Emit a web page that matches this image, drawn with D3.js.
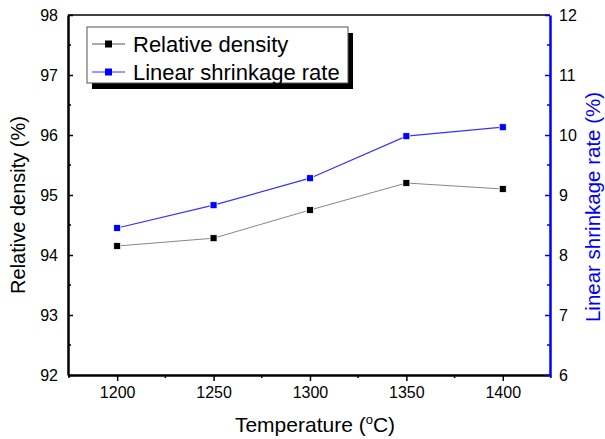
<!DOCTYPE html>
<html>
<head>
<meta charset="utf-8">
<script src="https://cdn.jsdelivr.net/npm/d3@7"></script>
<style>
  body { margin: 0; background: #fff; }
  svg { font-family: "Liberation Sans", Arial, sans-serif; }
</style>
</head>
<body>
<svg id="chart"></svg>
<script>
// data
const temperatures = [1200, 1250, 1300, 1350, 1400];
const relativeDensity = [94.15, 94.28, 94.75, 95.2, 95.1];
const shrinkageRate = [8.45, 8.83, 9.28, 9.98, 10.13];
const xTicks = [1200, 1250, 1300, 1350, 1400];
const leftTicks = [92, 93, 94, 95, 96, 97, 98];
const rightTicks = [6, 7, 8, 9, 10, 11, 12];

const W = 605, H = 439;
const margin = { top: 15, right: 55, bottom: 64, left: 68 };
const width = W - margin.left - margin.right;
const height = H - margin.top - margin.bottom;

const svg = d3.select("#chart").attr("width", W).attr("height", H);
const g = svg.append("g").attr("transform", `translate(${margin.left},${margin.top})`);

const x = d3.scaleLinear().domain([1174.5, 1424.5]).range([0, width]);
const yL = d3.scaleLinear().domain([92, 98]).range([height, 0]);
const yR = d3.scaleLinear().domain([6, 12]).range([height, 0]);

// top border
g.append("line").attr("x1", 0).attr("x2", width).attr("y1", 0).attr("y2", 0)
  .attr("stroke", "#000").attr("stroke-width", 1.5);

// minor ticks
const xMinor = d3.range(1175, 1426, 50);
g.selectAll(".xminor").data(xMinor).join("line")
  .attr("x1", d => x(d)).attr("x2", d => x(d)).attr("y1", height).attr("y2", height + 3)
  .attr("stroke", "#000").attr("stroke-width", 1.5);
const yMinor = d3.range(92.5, 98, 1);
g.selectAll(".lminor").data(yMinor).join("line")
  .attr("x1", 0).attr("x2", 3).attr("y1", d => yL(d)).attr("y2", d => yL(d))
  .attr("stroke", "#000").attr("stroke-width", 1.5);
g.selectAll(".rminor").data(d3.range(6.5, 12, 1)).join("line")
  .attr("x1", width).attr("x2", width - 3).attr("y1", d => yR(d)).attr("y2", d => yR(d))
  .attr("stroke", "#00f").attr("stroke-width", 1.5);

const tickFont = 16;

// bottom axis
const xAxis = g.append("g").attr("transform", `translate(0,${height})`)
  .call(d3.axisBottom(x).tickValues(xTicks).tickFormat(d3.format("d"))
    .tickSize(6).tickSizeOuter(0).tickPadding(6));
xAxis.select(".domain").attr("stroke-width", 2.5);
xAxis.selectAll(".tick line").attr("stroke-width", 1.5);
xAxis.selectAll("text").attr("font-size", tickFont).attr("fill", "#000")
  .attr("font-family", "Liberation Sans, Arial, sans-serif");

// left axis
const lAxis = g.append("g")
  .call(d3.axisLeft(yL).tickValues(leftTicks).tickFormat(d3.format("d"))
    .tickSize(-5).tickSizeOuter(0).tickPadding(10));
lAxis.select(".domain").attr("stroke-width", 2.5);
lAxis.selectAll(".tick line").attr("stroke-width", 1.5);
lAxis.selectAll("text").attr("font-size", tickFont).attr("fill", "#000")
  .attr("font-family", "Liberation Sans, Arial, sans-serif");

// right axis
const rAxis = g.append("g").attr("transform", `translate(${width},0)`)
  .call(d3.axisRight(yR).tickValues(rightTicks).tickFormat(d3.format("d"))
    .tickSize(-5).tickSizeOuter(0).tickPadding(9));
rAxis.select(".domain").attr("stroke", "#00f").attr("stroke-width", 2.5);
rAxis.selectAll(".tick line").attr("stroke", "#00f").attr("stroke-width", 1.5);
rAxis.selectAll("text").attr("font-size", tickFont).attr("fill", "#000")
  .attr("font-family", "Liberation Sans, Arial, sans-serif");

// lines
const densityData = temperatures.map((t, i) => ({ t, v: relativeDensity[i] }));
const shrinkData = temperatures.map((t, i) => ({ t, v: shrinkageRate[i] }));

g.append("path").datum(densityData)
  .attr("d", d3.line().x(d => x(d.t)).y(d => yL(d.v)))
  .attr("fill", "none").attr("stroke", "#888").attr("stroke-width", 1);
g.append("path").datum(shrinkData)
  .attr("d", d3.line().x(d => x(d.t)).y(d => yR(d.v)))
  .attr("fill", "none").attr("stroke", "#3333ff").attr("stroke-width", 1.2);

const ms = 7;
g.selectAll(".dmark").data(densityData).join("rect")
  .attr("x", d => x(d.t) - ms / 2).attr("y", d => yL(d.v) - ms / 2)
  .attr("width", ms).attr("height", ms).attr("fill", "#000")
  .attr("stroke", "#fff").attr("stroke-width", 0.8);
g.selectAll(".smark").data(shrinkData).join("rect")
  .attr("x", d => x(d.t) - ms / 2).attr("y", d => yR(d.v) - ms / 2)
  .attr("width", ms).attr("height", ms).attr("fill", "#0000ff")
  .attr("stroke", "#fff").attr("stroke-width", 0.8);

// legend
const lg = svg.append("g").attr("transform", "translate(87,27)");
const lgW = 261, lgH = 56;
lg.append("rect").attr("x", 5).attr("y", 6).attr("width", lgW).attr("height", lgH).attr("fill", "#000");
lg.append("rect").attr("x", 0).attr("y", 0).attr("width", lgW).attr("height", lgH)
  .attr("fill", "#fff").attr("stroke", "#555").attr("stroke-width", 1);
const legendItems = [
  { name: "Relative density", line: "#555", mark: "#000" },
  { name: "Linear shrinkage rate", line: "#3333ff", mark: "#0000ff" }
];
legendItems.forEach((it, i) => {
  const cy = 17 + i * 28;
  lg.append("line").attr("x1", 5).attr("x2", 38).attr("y1", cy).attr("y2", cy)
    .attr("stroke", it.line).attr("stroke-width", 1);
  lg.append("rect").attr("x", 21.5 - 3.5).attr("y", cy - 3.5).attr("width", 7).attr("height", 7)
    .attr("fill", it.mark);
  lg.append("text").attr("x", 46).attr("y", cy + 8).attr("font-size", 22).attr("fill", "#000")
    .text(it.name);
});

// axis titles
svg.append("text").attr("x", margin.left + width / 2 + 6).attr("y", 432)
  .attr("text-anchor", "middle").attr("font-size", 21).attr("fill", "#000")
  .html('Temperature (<tspan dy="-8" font-size="13">o</tspan><tspan dy="8">C)</tspan>');

svg.append("text")
  .attr("transform", "translate(25,205) rotate(-90)")
  .attr("text-anchor", "middle").attr("font-size", 20).attr("fill", "#000")
  .text("Relative density (%)");

svg.append("text")
  .attr("transform", "translate(585,207) rotate(-90)")
  .attr("text-anchor", "middle").attr("dy", "0.72em").attr("font-size", 20.5).attr("fill", "#0000ff")
  .text("Linear shrinkage rate (%)");
</script>
</body>
</html>
